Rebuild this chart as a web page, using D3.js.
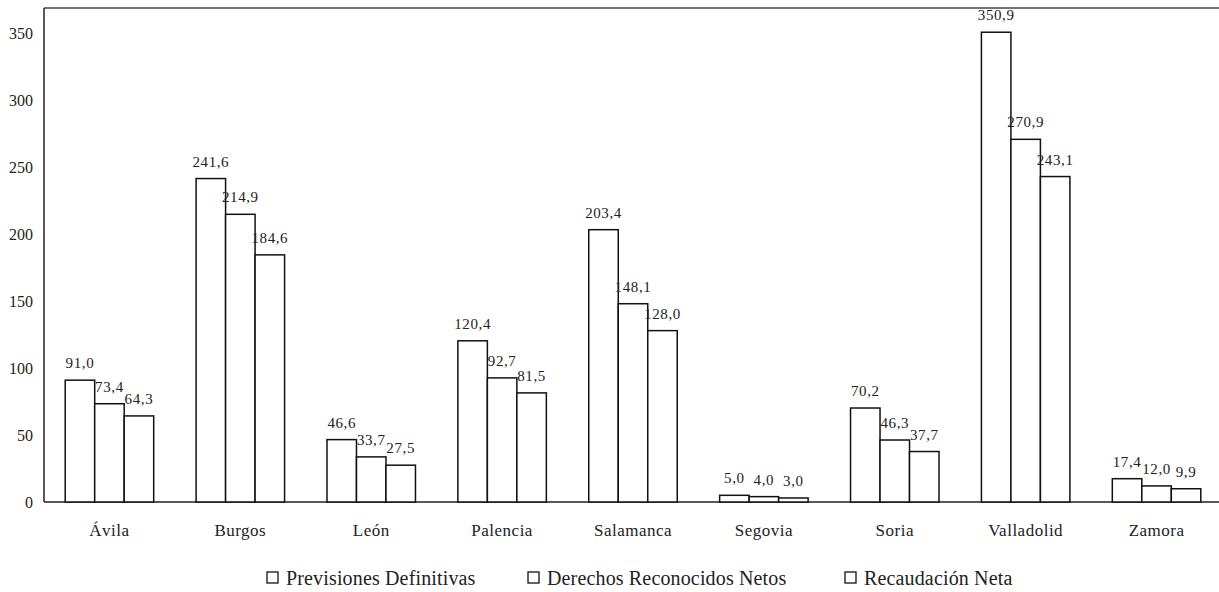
<!DOCTYPE html>
<html>
<head>
<meta charset="utf-8">
<script src="https://cdn.jsdelivr.net/npm/d3@7"></script>
<style>
  html, body { margin: 0; padding: 0; background: #fff; }
  svg text { font-family: "Liberation Serif", Tinos, "Times New Roman", Times, "DejaVu Serif", serif !important; }
</style>
</head>
<body>
<svg id="chart" width="1219" height="592"></svg>
<script>
const provinces = ["Ávila", "Burgos", "León", "Palencia", "Salamanca", "Segovia", "Soria", "Valladolid", "Zamora"];
const series = ["Previsiones Definitivas", "Derechos Reconocidos Netos", "Recaudación Neta"];
const previsiones = [91.0, 241.6, 46.6, 120.4, 203.4, 5.0, 70.2, 350.9, 17.4];
const derechos = [73.4, 214.9, 33.7, 92.7, 148.1, 4.0, 46.3, 270.9, 12.0];
const recaudacion = [64.3, 184.6, 27.5, 81.5, 128.0, 3.0, 37.7, 243.1, 9.9];
const yTicks = [0, 50, 100, 150, 200, 250, 300, 350];

const values = [previsiones, derechos, recaudacion];
const rows = provinces.map((p, i) => ({ name: p, vals: values.map((s, k) => ({ key: series[k], v: s[i] })) }));

const plotL = 44, plotT = 8, plotB = 502, plotR = 1222;
const svg = d3.select("#chart");

const y = d3.scaleLinear().domain([0, 369]).range([plotB, plotT]);
const x = d3.scaleBand().domain(provinces).range([plotL, plotR]).padding(0);
const groupW = x.bandwidth() * 0.676;
const xs = d3.scaleBand().domain(series).range([0, groupW]).padding(0);
const fmt = d => d3.format(".1f")(d).replace(".", ",");

// frame lines
svg.append("line").attr("x1", plotL).attr("x2", 1219).attr("y1", plotT).attr("y2", plotT)
  .attr("stroke", "#444").attr("stroke-width", 1.5);
svg.append("line").attr("x1", plotL).attr("x2", 1219).attr("y1", plotB).attr("y2", plotB)
  .attr("stroke", "#222").attr("stroke-width", 1.5);
svg.append("line").attr("x1", plotL).attr("x2", plotL).attr("y1", plotT).attr("y2", plotB)
  .attr("stroke", "#222").attr("stroke-width", 1.5);

// y axis labels
const yAxis = svg.append("g").attr("transform", `translate(${plotL},0)`)
  .call(d3.axisLeft(y).tickValues(yTicks).tickSize(0).tickPadding(11));
yAxis.select(".domain").remove();
yAxis.selectAll("text").attr("font-size", 16).attr("fill", "#222");

// bars
const groups = svg.selectAll("g.grp")
  .data(rows)
  .join("g")
  .attr("class", "grp")
  .attr("transform", d => `translate(${x(d.name) + (x.bandwidth() - groupW) / 2},0)`);

groups.selectAll("rect")
  .data(d => d.vals)
  .join("rect")
  .attr("x", d => xs(d.key))
  .attr("y", d => y(d.v))
  .attr("width", xs.bandwidth())
  .attr("height", d => y(0) - y(d.v))
  .attr("fill", "#fff")
  .attr("stroke", "#111")
  .attr("stroke-width", 1.5);

groups.selectAll("text")
  .data(d => d.vals)
  .join("text")
  .attr("x", d => xs(d.key) + xs.bandwidth() / 2)
  .attr("y", d => y(d.v) - 12)
  .attr("text-anchor", "middle")
  .attr("font-size", 15)
  .attr("letter-spacing", 0.6)
  .attr("fill", "#222")
  .text(d => fmt(d.v));

// category labels
const xAxis = svg.append("g").attr("transform", `translate(0,${plotB})`)
  .call(d3.axisBottom(x).tickSize(0).tickPadding(22));
xAxis.select(".domain").remove();
xAxis.selectAll("text").attr("font-size", 17).attr("fill", "#222").attr("letter-spacing", 0.5);

// legend
const legendX = [267, 528, 845];
const legend = svg.append("g").selectAll("g")
  .data(series)
  .join("g")
  .attr("transform", (d, i) => `translate(${legendX[i]},578)`);
legend.append("rect")
  .attr("x", 0).attr("y", -6).attr("width", 11).attr("height", 11)
  .attr("fill", "#fff").attr("stroke", "#111").attr("stroke-width", 1.3);
legend.append("text")
  .attr("x", 19).attr("y", 7)
  .attr("font-size", 20)
  .attr("letter-spacing", 0.15)
  .attr("fill", "#222")
  .text(d => d);
</script>
</body>
</html>
